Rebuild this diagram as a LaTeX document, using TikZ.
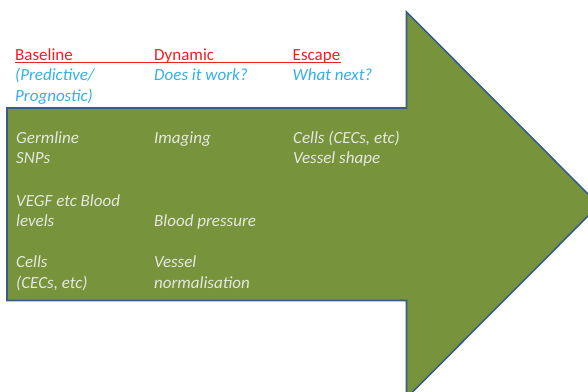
\documentclass[tikz,border=0pt]{standalone}
\usepackage{fontspec}
\setmainfont{Carlito}
\definecolor{arrowfill}{HTML}{77933C}
\definecolor{arrowline}{HTML}{385D8A}
\definecolor{headred}{HTML}{EE2020}
\definecolor{subblue}{HTML}{33B0E8}
\definecolor{paletext}{HTML}{E6E8E0}
\begin{document}
\begin{tikzpicture}[x=1pt,y=-1pt,
  txt/.style={anchor=base west,inner sep=0pt,align=left,font=\fontsize{17}{20.7}\selectfont},
  head/.style={txt,text=headred},
  sub/.style={txt,text=subblue,font=\fontsize{17}{21}\selectfont\itshape},
  cell/.style={txt,text=paletext,font=\fontsize{17}{20.4}\selectfont\itshape}]
\useasboundingbox (0,0) rectangle (588,391);
\begin{scope}
\clip (0,0) rectangle (588,391);
\draw[arrowline,line width=1.6pt,fill=arrowfill,line join=miter]
  (7,108) -- (406.5,108) -- (406.5,12) -- (599,205) -- (406.5,398) -- (406.5,300.5) -- (7,300.5) -- cycle;
\end{scope}
\node[head] (h1) at (15,60.7) {Baseline};
\node[head] (h2) at (154,60.7) {Dynamic};
\node[head] (h3) at (292.5,60.7) {Escape};
\draw[headred,line width=1.1pt] (15,62.6) -- (340.7,62.6);
\node[sub] (s1) at (15,101.7) {(Predictive/\\Prognostic)};
\node[sub] (s2) at (154,80.7) {Does it work?};
\node[sub] (s3) at (292.5,80.7) {What next?};
\node[cell] (c1) at (16,163.5) {Germline\\SNPs};
\node[cell] (c2) at (154,143.3) {Imaging};
\node[cell] (c3) at (293,163.5) {Cells (CECs, etc)\\Vessel shape};
\node[cell] (c4) at (16,226.7) {VEGF etc Blood\\levels};
\node[cell] (c5) at (154,226.7) {Blood pressure};
\node[cell] (c6) at (16,288.3) {Cells\\(CECs, etc)};
\node[cell] (c7) at (154,288.3) {Vessel\\normalisation};
\end{tikzpicture}
\end{document}
